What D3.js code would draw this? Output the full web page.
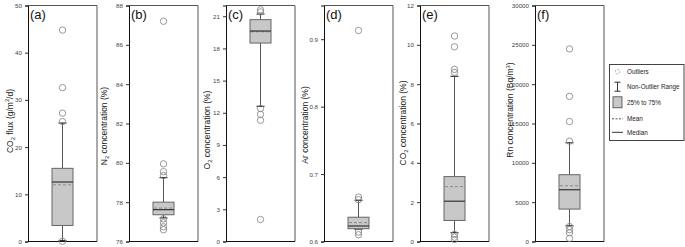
<!DOCTYPE html>
<html><head><meta charset="utf-8">
<script src="https://cdn.jsdelivr.net/npm/d3@7"></script>
<style>body{margin:0;background:#fff}svg{display:block;font-family:"Liberation Sans",Arial,sans-serif}</style>
</head><body><svg id="c" width="685" height="247"></svg>
<script>
// ---------- data ----------
const panelLetters = ["(a)", "(b)", "(c)", "(d)", "(e)", "(f)"];
const yTitles = [
  [["CO",""],["2","sub"],[" flux (g/m",""],["2","sup"],["/d)",""]],
  [["N",""],["2","sub"],[" concentration (%)",""]],
  [["O",""],["2","sub"],[" concentration (%)",""]],
  [["Ar concentration (%)",""]],
  [["CO",""],["2","sub"],[" concentration (%)",""]],
  [["Rn concentration (Bq/m",""],["3","sup"],[")",""]]
];
const yMin = [0, 76, 0, 0.6, 0, 0];
const yMax = [50, 88, 22, 0.95, 12, 30000];
const tickA = [0, 10, 20, 30, 40, 50];
const tickB = [76, 78, 80, 82, 84, 86, 88];
const tickC = [0, 3, 6, 9, 12, 15, 18, 21];
const tickD = [0.6, 0.7, 0.8, 0.9];
const tickE = [0, 2, 4, 6, 8, 10, 12];
const tickF = [0, 5000, 10000, 15000, 20000, 25000, 30000];
const ticks = [tickA, tickB, tickC, tickD, tickE, tickF];
const q1 = [3.4, 77.36, 18.5, 0.619, 1.07, 4120];
const q3 = [15.5, 78.0, 20.68, 0.636, 3.3, 8490];
const median = [12.6, 77.62, 19.62, 0.623, 2.05, 6580];
const mean = [12.0, 77.7, 19.55, 0.628, 2.79, 7090];
const whiskerLow = [0.2, 77.2, 12.6, 0.618, 0.45, 2000];
const whiskerHigh = [25.1, 79.25, 21.2, 0.661, 8.4, 12550];
const outliers = [
  [44.8, 32.6, 27.2, 25.4, 0.05],
  [87.2, 79.95, 79.55, 79.35, 77.15, 76.95, 76.75, 76.6],
  [21.6, 21.4, 12.4, 11.85, 11.3, 2.05],
  [0.913, 0.666, 0.662, 0.614, 0.610],
  [10.45, 9.9, 8.75, 8.6, 0.36, 0.22, 0.1],
  [24480, 18450, 15250, 12750, 1900, 1500, 1100, 400]
];
const legendLabels = ["Outliers", "Non-Outlier Range", "25% to 75%", "Mean", "Median"];

// ---------- layout ----------
const panelLeft = [28, 129, 226, 324, 420, 535];
const panelW = 69, plotTop = 5.5, plotBottom = 241.5;
const titleX = [12.5, 107, 210, 307.5, 406, 513];
const titleY = [121, 126, 130, 125, 123, 110];
const boxW = 21, capW = 8, rad = 3.2;
const boxFill = "#c8c8c8", boxStroke = "#666", whiskColor = "#555";

const svg = d3.select("#c");

panelLeft.forEach((x0, i) => {
  const y = d3.scaleLinear().domain([yMin[i], yMax[i]]).range([plotBottom, plotTop]);
  const g = svg.append("g");
  const cx = x0 + panelW / 2;

  g.append("path").attr("d", `M${x0},${plotTop}H${x0+panelW}V${plotBottom}`)
    .attr("fill", "none").attr("stroke", "#555").attr("stroke-width", 1);
  g.append("line").attr("x1", x0).attr("x2", x0 + panelW).attr("y1", plotBottom).attr("y2", plotBottom)
    .attr("stroke", "#111").attr("stroke-width", 1.2);

  const ax = g.append("g").attr("transform", `translate(${x0},0)`)
    .call(d3.axisLeft(y).tickValues(ticks[i]).tickSize(3).tickPadding(3)
      .tickFormat(d => i === 3 ? d3.format(".1f")(d) : d3.format("d")(d)));
  ax.select(".domain").attr("stroke", "#111");
  ax.selectAll(".tick line").attr("stroke", "#333");
  ax.selectAll(".tick text").attr("fill", "#444").style("font-size", "6.2px")
    .style("font-family", "'Liberation Sans',Arial,sans-serif");

  g.append("line").attr("x1", cx).attr("x2", cx).attr("y1", y(whiskerHigh[i])).attr("y2", y(q3[i]))
    .attr("stroke", whiskColor).attr("stroke-width", 1);
  g.append("line").attr("x1", cx).attr("x2", cx).attr("y1", y(whiskerLow[i])).attr("y2", y(q1[i]))
    .attr("stroke", whiskColor).attr("stroke-width", 1);
  [whiskerHigh[i], whiskerLow[i]].forEach(v => {
    g.append("line").attr("x1", cx - capW/2).attr("x2", cx + capW/2).attr("y1", y(v)).attr("y2", y(v))
      .attr("stroke", "#333").attr("stroke-width", 1.2);
  });

  g.append("rect").attr("x", cx - boxW/2).attr("width", boxW)
    .attr("y", y(q3[i])).attr("height", y(q1[i]) - y(q3[i]))
    .attr("fill", boxFill).attr("stroke", boxStroke).attr("stroke-width", 1);
  g.append("line").attr("x1", cx - boxW/2 + 1).attr("x2", cx + boxW/2 - 1)
    .attr("y1", y(mean[i])).attr("y2", y(mean[i]))
    .attr("stroke", "#8a8a8a").attr("stroke-width", 1).attr("stroke-dasharray", "3,2");
  g.append("line").attr("x1", cx - boxW/2).attr("x2", cx + boxW/2)
    .attr("y1", y(median[i])).attr("y2", y(median[i]))
    .attr("stroke", "#333").attr("stroke-width", 1.2);

  g.selectAll("circle.o").data(outliers[i]).join("circle").attr("class", "o")
    .attr("cx", cx).attr("cy", d => y(d)).attr("r", rad)
    .attr("fill", "none").attr("stroke", "#8c8c8c").attr("stroke-width", 0.9);

  g.append("text").attr("x", x0 + 2).attr("y", 18.5).text(panelLetters[i])
    .style("font-size", "13px").attr("fill", "#111");

  const t = g.append("text").attr("transform", `translate(${titleX[i]},${titleY[i]}) rotate(-90)`)
    .attr("text-anchor", "middle").style("font-size", "8.5px").attr("fill", "#222");
  let prevKind = "";
  yTitles[i].forEach(([s, k]) => {
    const ts = t.append("tspan").text(s);
    if (k === "sub") ts.style("font-size", "5.8px").attr("dy", 2);
    else if (k === "sup") ts.style("font-size", "5.8px").attr("dy", -3.5);
    else if (prevKind === "sub") ts.attr("dy", -2);
    else if (prevKind === "sup") ts.attr("dy", 3.5);
    prevKind = k;
  });
});

// ---------- legend ----------
const lg = svg.append("g");
lg.append("rect").attr("x", 609.5).attr("y", 64.5).attr("width", 74.5).attr("height", 76)
  .attr("fill", "#fff").attr("stroke", "#444").attr("stroke-width", 1);
const ly = [71.7, 86.7, 102.3, 118.8, 132.3];
const sx = 617.5;
lg.append("circle").attr("cx", sx).attr("cy", ly[0]).attr("r", 2.2).attr("fill", "none")
  .attr("stroke", "#999").attr("stroke-width", 0.8).attr("stroke-dasharray", "2,1");
lg.append("line").attr("x1", sx).attr("x2", sx).attr("y1", ly[1] - 4.5).attr("y2", ly[1] + 4.5).attr("stroke", "#333");
lg.append("line").attr("x1", sx - 3).attr("x2", sx + 3).attr("y1", ly[1] - 4.5).attr("y2", ly[1] - 4.5).attr("stroke", "#333");
lg.append("line").attr("x1", sx - 3).attr("x2", sx + 3).attr("y1", ly[1] + 4.5).attr("y2", ly[1] + 4.5).attr("stroke", "#333");
lg.append("rect").attr("x", 613).attr("y", ly[2] - 5.5).attr("width", 9).attr("height", 11)
  .attr("fill", boxFill).attr("stroke", "#444").attr("stroke-width", 0.8);
lg.append("line").attr("x1", 612).attr("x2", 623).attr("y1", ly[3]).attr("y2", ly[3])
  .attr("stroke", "#555").attr("stroke-dasharray", "2,1.5");
lg.append("line").attr("x1", 612).attr("x2", 623).attr("y1", ly[4]).attr("y2", ly[4])
  .attr("stroke", "#333");
lg.selectAll("text.l").data(legendLabels).join("text").attr("class", "l")
  .attr("x", 627).attr("y", (d, k) => ly[k]).attr("dy", "0.35em")
  .style("font-size", "6.3px").attr("fill", "#222").text(d => d);
</script>
</body></html>
